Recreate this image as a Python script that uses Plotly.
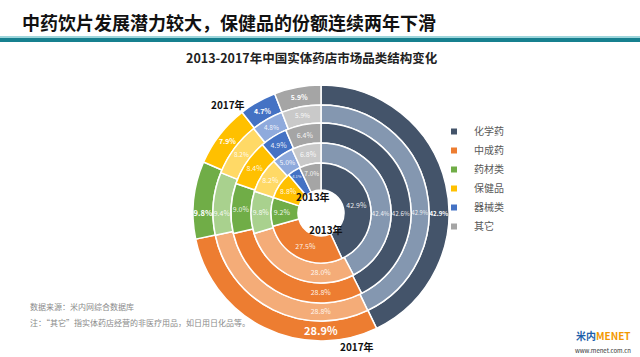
import plotly.graph_objects as go

# ---------------- data ----------------
categories = ["化学药", "中成药", "药材类", "保健品", "器械类", "其它"]
years = ["2013年", "2014年", "2015年", "2016年", "2017年"]
share_2013 = [42.9, 27.5, 9.2, 8.8, 4.1, 7.0]
share_2014 = [42.4, 28.0, 9.8, 8.2, 5.0, 6.8]
share_2015 = [42.6, 28.8, 9.0, 8.4, 4.9, 6.4]
share_2016 = [42.9, 28.8, 9.4, 8.2, 4.8, 5.9]
share_2017 = [42.9, 28.9, 9.8, 7.9, 4.7, 5.9]

title_text = "中药饮片发展潜力较大，保健品的份额连续两年下滑"
subtitle_text = "2013-2017年中国实体药店市场品类结构变化"
source_text = "数据来源：米内网综合数据库"
note_text = "注：“其它”指实体药店经营的非医疗用品，如日用日化品等。"

# ---------------- style ----------------
W, H = 640, 357
FONT = "Noto Sans CJK SC"
full_colors = ["#44546A", "#ED7D31", "#70AD47", "#FFC000", "#4472C4", "#A5A5A5"]
light_colors = ["#8497B0", "#F4AC78", "#A9D18E", "#FFD966", "#8FAADC", "#C9C9C9"]

cx, cy = 321, 213          # pixel centre of the rings (from top-left)
radii = [50, 70, 90, 108, 128]   # outer radius of each ring, inner->outer
hole0 = 23

def domain(r):
    return dict(x=[(cx - r) / W, (cx + r) / W],
                y=[1 - (cy + r) / H, 1 - (cy - r) / H])

fig = go.Figure()

ring_values = [share_2013, share_2014, share_2015, share_2016, share_2017]
for i in reversed(range(5)):
    r_out = radii[i]
    r_in = radii[i - 1] if i > 0 else hole0
    colors = full_colors if i % 2 == 0 else light_colors
    outer = (i == 4)
    fig.add_trace(go.Pie(
        labels=categories,
        values=ring_values[i],
        name=years[i],
        sort=False,
        direction="clockwise",
        rotation=0,
        hole=r_in / r_out,
        domain=domain(r_out),
        marker=dict(colors=colors, line=dict(color="white", width=1.5)),
        texttemplate="%{value:.1f}%",
        textposition="inside",
        insidetextorientation="horizontal",
        textfont=dict(family=FONT, size=11 if outer else 7,
                      color="white" if outer else "rgba(255,255,255,0.9)",
                      weight="bold" if outer else "normal"),
        showlegend=False,
        hoverinfo="label+value",
    ))

# legend entries
for name, col in zip(categories, full_colors):
    fig.add_trace(go.Scatter(x=[None], y=[None], mode="markers", name=name,
                             marker=dict(symbol="square", size=6, color=col)))

fig.update_xaxes(visible=False)
fig.update_yaxes(visible=False)

annotations = [
    dict(text=f"<b>{title_text}</b>", x=20 / W, y=1 - 22 / H, xanchor="left", yanchor="middle",
         font=dict(family=FONT, size=18, color="#111111")),
    dict(text=f"<b>{subtitle_text}</b>", x=312 / W, y=1 - 58 / H, xanchor="center", yanchor="middle",
         font=dict(family=FONT, size=12.5, color="#222222")),
    dict(text="<b>2017年</b>", x=228 / W, y=1 - 104 / H, xanchor="center", yanchor="middle",
         font=dict(family=FONT, size=10, color="#111111")),
    dict(text="<b>2013年</b>", x=313 / W, y=1 - 196 / H, xanchor="center", yanchor="middle",
         font=dict(family=FONT, size=10, color="#111111")),
    dict(text="<b>2013年</b>", x=326 / W, y=1 - 229 / H, xanchor="center", yanchor="middle",
         font=dict(family=FONT, size=10, color="#111111")),
    dict(text="<b>2017年</b>", x=357 / W, y=1 - 346 / H, xanchor="center", yanchor="middle",
         font=dict(family=FONT, size=10, color="#111111")),
    dict(text=source_text, x=28 / W, y=1 - 306 / H, xanchor="left", yanchor="middle",
         font=dict(family=FONT, size=8, color="#8a8a8a")),
    dict(text=note_text, x=28 / W, y=1 - 322 / H, xanchor="left", yanchor="middle",
         font=dict(family=FONT, size=8, color="#8a8a8a")),
    dict(text="<b><span style='color:#1F5FAA'>米内</span><span style='color:#F39800'>MENET</span></b>",
         x=603 / W, y=1 - 335 / H, xanchor="center", yanchor="middle",
         font=dict(family=FONT, size=10)),
    dict(text="www.menet.com.cn", x=603 / W, y=1 - 350 / H, xanchor="center", yanchor="middle",
         font=dict(family=FONT, size=6, color="#333333")),
]
for a in annotations:
    a.update(xref="paper", yref="paper", showarrow=False)

shapes = [
    dict(type="rect", xref="paper", yref="paper", x0=0, x1=1, y0=1 - 38 / H, y1=1 - 36 / H,
         fillcolor="#9ED6DC", line=dict(width=0)),
    dict(type="rect", xref="paper", yref="paper", x0=0, x1=1, y0=1 - 42 / H, y1=1 - 38 / H,
         fillcolor="#17808F", line=dict(width=0)),
]

fig.update_layout(
    width=W, height=H,
    margin=dict(l=0, r=0, t=0, b=0),
    paper_bgcolor="white", plot_bgcolor="white",
    annotations=annotations,
    shapes=shapes,
    showlegend=True,
    legend=dict(x=434 / W, y=1 - 117 / H, xanchor="left", yanchor="top",
                font=dict(family=FONT, size=10, color="#595959"),
                bgcolor="rgba(0,0,0,0)", itemwidth=30, tracegroupgap=0),
)

fig.write_html("out.html", config={"displayModeBar": False},
               post_script="document.body.style.margin='0';")
